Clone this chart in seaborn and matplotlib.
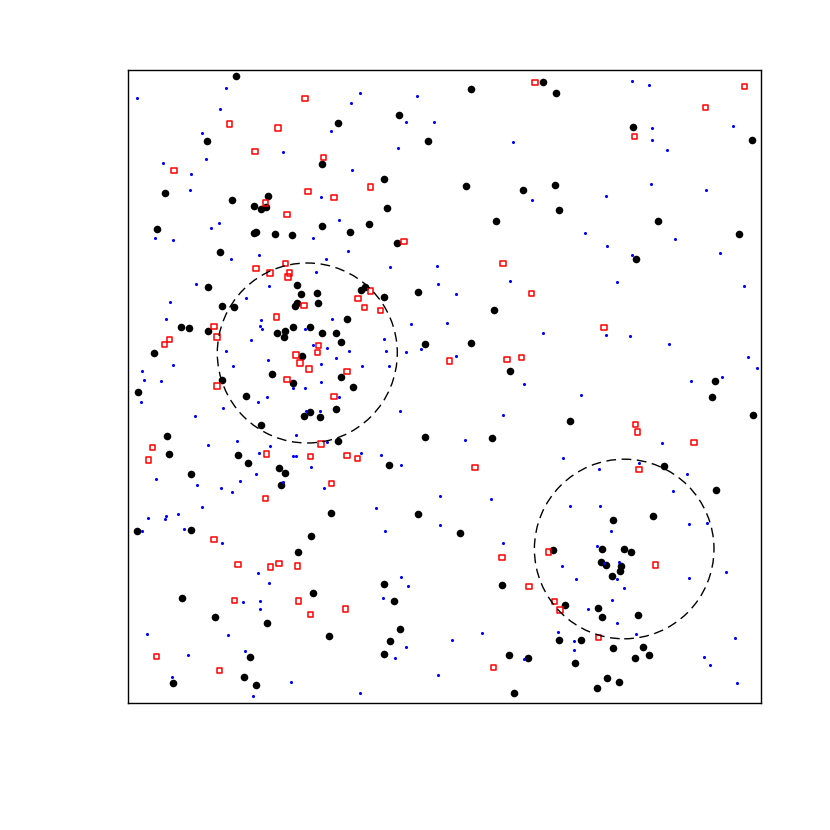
import numpy as np
import pandas as pd
import matplotlib
matplotlib.use("Agg")
import matplotlib.pyplot as plt
import seaborn as sns
from matplotlib.patches import Circle

# ---- data (axis units, both axes span 0..633) ----
black_x = [108,210,79.3,194.3,36.7,103.7,139.7,125.7,133.3,137.7,194.3,29,126.3,128.3,147.3,164.3,92,
           415,343.3,270.7,300,256.3,337.7,394.7,259,240.7,368,222.3,268.7,
           428.3,505,623.7,427,430.7,529.7,610.7,508.3,
           80.3,169,172.7,189.3,190.3,166.7,168.7,93.7,106,52.7,61,80.3,149.3,156.7,156.3,164.7,181.7,194.3,208.3,26.3,173.7,144.3,93.7,165,10,118,208.3,182,176.3,192.3,132.7,38.7,210,41,110.3,120,63.3,151,156.7,153,
           237.3,233.3,255.7,290,365.7,218.7,213.3,297.3,342.7,213.3,225.3,382.3,296.7,364,260.7,
           586.7,584,624.7,441.7,536.3,588.3,
           203.3,9,63.3,182.7,169.7,185.3,53.7,87.3,139,201.3,122.3,115.7,128.3,44.7,
           290,331.7,256,374,266.3,272,262.3,256.3,381,400,385.7,
           524.7,484.7,425.3,474,496,503,473.3,477.7,493,492,483.7,437.3,470,474.3,510.3,431,452.7,484.7,515,507.3,521.3,447.3,478.7,491.3,469]
black_y = [626.7,579.7,562,538.7,510,503.3,507.3,497.3,494,495.7,476.7,474,470,470.7,469,468,450.7,
           621,614.3,588.3,562,523.7,517.3,513.3,494.7,479.3,482,470.7,460,
           610,575.7,563,517.7,493.3,482,469.3,444.3,
           415.7,417.7,409,410,400,397.3,399.7,397,396,376.3,375,371.7,370.3,372.3,365.7,375.7,376,370.3,370.3,350,346.7,329.3,322.7,319.7,310.7,307,293.7,290.7,287.3,285.7,278,267,261.7,249,247.7,240,229,235,229.7,218,
           416.3,413,406.3,411,393,384.3,361.3,358.7,360,326.3,315.7,331.7,265.7,265.3,238,
           321.7,306,288,282,237.3,213,
           190.3,172.3,173.3,167.3,151.3,110.3,104.7,86,80,67.3,45.7,26,17.7,20,
           189.3,170.3,118.7,117.7,102,74,62,48.7,48,45.3,10,
           186.7,182.7,153.3,154,153.7,151,140.7,138,137.3,132.3,126.7,98.3,95,85.7,88.3,63.3,63.3,55.3,55.7,45.3,48.3,40,24.7,21.3,15]

red_x = [177,101.7,150,127,195.7,46,180,206,137.3,159,128,142,157.3,161.7,160,
         407,242.7,276,375,
         616.7,577.7,506.7,
         176,148.7,86,89,41.7,36.3,190.7,189.3,168,172,181,159,89,206,193,24.7,20.3,138.3,182.7,203.3,
         242.7,230,236.7,252.3,403.7,219,321.7,379,393.7,219,229.3,347,
         476,507.7,509.7,566,511,
         137.3,86,110,142.7,151,169.3,106.3,170.7,182.3,28.7,91.3,
         374,401,420.7,217.7,365.7,
         527.7,426.3,432,470.7]
red_y = [604.7,579,575,551.3,545.3,532.7,511.3,505.3,500,488.3,434.7,430,439.7,430,426,
         620.7,516,461.3,439.7,
         616.7,595.3,566.7,
         397.7,386,376.7,366,363.7,358.7,357.3,350.3,348,340,334,323.7,317,306.3,259,255.7,243,249,246.7,219.3,
         412,404.7,395.3,392.3,409.7,331.7,342,343.7,345.3,247.3,244.7,235.3,
         375.3,278.3,271,260.3,233.7,
         204.7,163.3,138.3,136,139.3,137,102.3,102,88.7,46.7,32.3,
         145.3,116.7,151,94,35.3,
         138,101.3,93,65.3]

blue_x = [9,98.3,92.3,74.3,203.3,155,35.3,77.7,63,61.7,193,211,90.7,83,26.7,44.7,185.3,131,103.3,198.3,187.7,
          232,223,289.3,278.3,306,270.3,385,224.3,403.7,220.3,261.7,309.3,382,
          503.7,520.7,524,605.3,523.7,539.3,523,577.7,478,456.7,547.3,479.3,503.7,592.3,488.7,
          67.7,141.3,41.7,117.7,37.7,133.3,132,134.3,204,177.3,122.7,184.7,199.3,97.7,140.3,208,193.3,44.7,105.3,13.7,15.7,33,192.7,165.3,176.7,210.7,12.7,139,130,94.7,67,178,192.3,167.7,80,109,141.7,198.7,131.3,165,168.3,182.7,128,28,112,68.7,93.3,155.3,196,104,
          309.7,328.3,283.3,319.3,415.3,256,221.3,257.7,277.7,292.7,328,234,260.7,396,271.7,375.3,337,232.7,253.3,273,
          615.7,477.7,501.7,541,620,629,594,562.7,453,533.7,434.7,471.3,511,558.7,544.7,
          74.3,20,38.3,37,50.3,13.7,55.7,93.7,129.7,141.3,115,131.7,132.3,18.7,99.7,117.3,59.7,43.7,163.3,124.7,
          312,362.7,248,257,312.3,375,272.7,279.7,254.7,353.7,324.3,278,266.7,396,310.3,231.7,
          442.3,472.3,561,579.3,482.7,469.3,490.7,475.7,434,448,489,560.7,598.3,495.7,483.7,459.7,488.7,430.3,445.7,446.3,507.7,606.7,576.3,581.7,608.7]
blue_y = [604.7,615,594,570.3,572.3,551,540,544.3,528.7,513.3,506,483.3,480,474.7,465,463.3,464.7,448.3,444.3,443.7,431,
          610,599.7,607,581,580.7,555,561.3,532.7,502.7,451.7,436.3,437,422,
          622,618.3,575.3,577.3,563,553,519,513.3,507,470,464,457,448.3,450.3,421.3,
          419,416.7,401.3,405,384,383,376.7,374.3,383.7,374.3,362.7,358,354.7,352.3,343.3,345.3,339,337.7,336.7,332.3,323,322.3,321.3,314.7,315,305.7,301,305.7,301.3,295,287,292.3,292,268,258.3,261.7,257.3,261.3,249.7,247,247,235.7,228.7,224.3,222,218,215.3,220.7,215,211,
          419.3,409.3,379.3,380,370,364,352.3,351.7,351,353.7,347.3,337.3,336.7,318.7,292,288,263.3,250,248.3,238,
          416.7,368.3,367,359.3,345.7,335.3,326,321.7,307.7,259.7,245.3,234,240,229,211.7,
          196,185.3,187.3,183.7,189,172.3,174,159.7,129.7,120.3,100.7,102.3,94,69,68,52,48.3,25.7,21.3,7.3,
          207,204.3,195.3,171.7,178.3,160.3,126,117.3,104.7,70.3,63.3,56.3,44.7,44,28.3,10.3,
          197.3,197.3,178.7,180,172.3,157.3,141.3,140.3,137,124.3,123.7,125.3,131,115.3,102.7,94,80.3,71,62.3,53.3,68.7,65.3,45.7,38.3,20]

circle_cx = [179.3, 496.2]
circle_cy = [350.0, 154.0]
circle_r = [90.0, 89.8]

axis_lim = [0, 633]

black = pd.DataFrame({"x": black_x, "y": black_y})
red = pd.DataFrame({"x": red_x, "y": red_y})
blue = pd.DataFrame({"x": blue_x, "y": blue_y})

sns.set_style("white")
fig = plt.figure(figsize=(8.3, 8.3), dpi=100)
ax = fig.add_axes([128/830, 127/830, 633/830, 633/830])

sns.scatterplot(data=black, x="x", y="y", ax=ax, color="black", s=30, linewidth=0, marker="o")
sns.scatterplot(data=red, x="x", y="y", ax=ax, marker="s", s=14, facecolor="none",
                edgecolor="red", linewidth=1.1)
sns.scatterplot(data=blue, x="x", y="y", ax=ax, color="blue", s=5, linewidth=0, marker="o")

for cx, cy, r in zip(circle_cx, circle_cy, circle_r):
    ax.add_patch(Circle((cx, cy), r, fill=False, edgecolor="black", linewidth=1.0,
                        linestyle=(0, (7, 4))))

ax.set_xlim(axis_lim)
ax.set_ylim(axis_lim)
ax.set_xticks([])
ax.set_yticks([])
ax.set_xlabel("")
ax.set_ylabel("")
for sp in ax.spines.values():
    sp.set_visible(True)
    sp.set_color("black")
    sp.set_linewidth(1.0)

fig.savefig("out.png", dpi=100, facecolor="white")
